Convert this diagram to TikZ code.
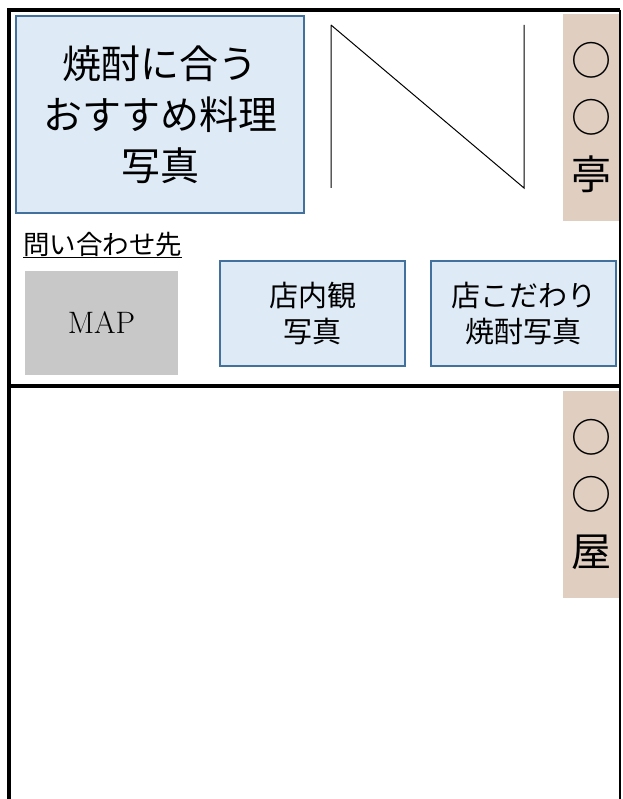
\documentclass[tikz,border=0pt]{standalone}
\usepackage{fontspec}
\newfontfamily\jp{Noto Sans CJK JP}
\definecolor{photofill}{RGB}{222,235,247}
\definecolor{photoline}{RGB}{65,113,156}
\definecolor{tan}{RGB}{224,207,193}
\definecolor{mapgray}{RGB}{200,200,200}
\tikzset{
  photo/.style={draw=photoline, line width=1.6pt, fill=photofill, align=center, inner sep=0pt},
  shopname/.style={fill=tan, align=center, inner sep=0pt, minimum width=57pt, minimum height=207pt,
    font=\jp\fontsize{40}{57}\selectfont},
  frame/.style={line width=4.5pt}
}
\begin{document}
\begin{tikzpicture}[x=1pt,y=-1pt, line join=miter]
	\useasboundingbox (0,0) rectangle (622,799);
	% upper panel
	\node[photo, minimum width=288pt, minimum height=197pt, font=\jp\fontsize{39}{51}\selectfont]
	  (dish) at (160,114.5) {焼酎に合う\\おすすめ料理\\写真};
	\draw[line width=1pt] (331,25)--(331,188) (331,25)--(524,188)--(524,25);
	\node[shopname] (tei) at (591,117.5) {○\\○\\亭};
	\node[anchor=west, inner sep=0pt, font=\jp\fontsize{26.5}{28}\selectfont] (contact) at (23,245) {\underline{問い合わせ先}};
	\node[fill=mapgray, minimum width=153pt, minimum height=104pt, inner sep=0pt, font=\fontsize{31}{34}\selectfont]
	  (map) at (101.5,323) {MAP};
	\node[photo, minimum width=185pt, minimum height=105pt, font=\jp\fontsize{29}{36}\selectfont]
	  (inside) at (312.5,313.5) {店内観\\写真};
	\node[photo, minimum width=185pt, minimum height=105pt, font=\jp\fontsize{29}{36}\selectfont]
	  (shochu) at (523.5,313.5) {店こだわり\\焼酎写真};
	% lower panel
	\node[shopname] (ya) at (591,494.5) {○\\○\\屋};
	% frame
	\draw[frame] (9,799)--(9,10)--(620,10);
	\draw[frame] (9,386)--(620,386);
	\draw[line width=2pt] (619.5,10)--(619.5,799);
\end{tikzpicture}
\end{document}
